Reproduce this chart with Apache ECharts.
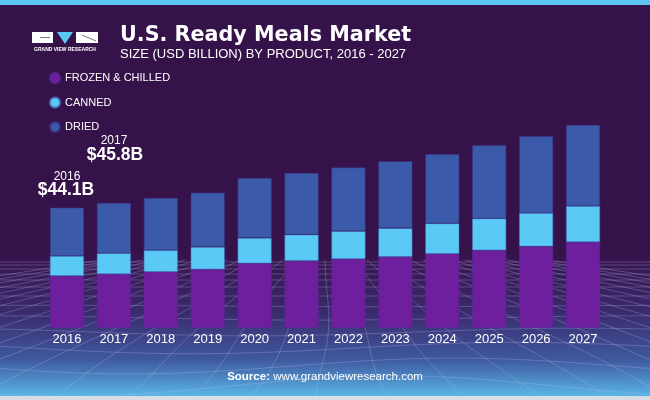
<!DOCTYPE html>
<html>
<head>
<meta charset="utf-8">
<script src="https://cdn.jsdelivr.net/npm/echarts@6/dist/echarts.min.js"></script>
<style>html,body{margin:0;padding:0;background:#36124a}#c{width:650px;height:400px}</style>
</head>
<body>
<div id="c"></div>
<script>
var years = ['2016','2017','2018','2019','2020','2021','2022','2023','2024','2025','2026','2027'];
var frozen = [19.1,19.8,20.6,21.5,23.7,24.6,25.3,26.1,27.2,28.5,29.9,31.5];
var canned = [7.3,7.6,7.9,8.2,9.3,9.6,10.2,10.5,11.1,11.6,12.2,13.2];
var dried  = [17.7,18.4,19.1,19.9,22.0,22.6,23.3,24.5,25.4,26.9,28.2,29.7];
var seriesNames = ['FROZEN & CHILLED','CANNED','DRIED'];
var colors = ['#6e1f9e','#5bc9f6','#3b5aa9'];

var chart = echarts.init(document.getElementById('c'), null, {renderer:'canvas'});

// decorative mesh lines
var mesh = [];
var lineStyle = {stroke:'rgba(190,190,240,0.28)', lineWidth:1};
var hy = [262,265,269,274,280,287,296,306,318,332,348,366,386];
hy.forEach(function(y,i){
  var pts = [];
  for (var x=0; x<=650; x+=25) {
    var wob = (y>300) ? Math.sin((x/650)*Math.PI*2 + i*0.6)*(y-300)*0.12 : 0;
    pts.push([x, y + wob]);
  }
  mesh.push({type:'polyline', z:-5, silent:true, shape:{points:pts}, style:lineStyle});
});
for (var k=-16; k<=16; k++) {
  var xb = 325 + k*70, xt = 325 + k*14;
  var pts = [];
  for (var t=0; t<=1.0001; t+=0.1) {
    var y = 260 + t*140;
    var x = xt + (xb-xt)*t + Math.sin(t*Math.PI*1.5 + k)*10*t;
    pts.push([x,y]);
  }
  mesh.push({type:'polyline', z:-5, silent:true, shape:{points:pts}, style:lineStyle});
}

var option = {
  backgroundColor: 'transparent',
  animation: false,
  color: ['#7626a6','#5bc9f6','#3b5aa9'],
  legend: {
    data: seriesNames,
    orient: 'vertical',
    left: 49, top: 72, padding: 0,
    icon: 'circle',
    itemWidth: 10, itemHeight: 10, itemGap: 12.5,
    textStyle: {color:'#ffffff', fontSize: 11, padding:[0,0,0,0], fontFamily:'Liberation Sans, Arial'}
  },
  grid: {left: 43.5, right: 43.5, top: 55, bottom: 72},
  xAxis: {
    type:'category', data: years,
    axisLine:{show:false}, axisTick:{show:false},
    axisLabel:{color:'#ffffff', fontSize:13, margin:5, fontFamily:'Liberation Sans, Arial'}
  },
  yAxis: {type:'value', min:0, max:100, show:false, splitLine:{show:false}},
  series: [
    {name:seriesNames[0], type:'bar', stack:'t', data:frozen, barWidth:34, itemStyle:{color:colors[0], borderColor:'rgba(90,40,150,0.9)', borderWidth:0.6}},
    {name:seriesNames[1], type:'bar', stack:'t', data:canned, barWidth:34, itemStyle:{color:colors[1], borderColor:'rgba(70,120,200,0.9)', borderWidth:0.6}},
    {name:seriesNames[2], type:'bar', stack:'t', data:dried, barWidth:34, itemStyle:{color:colors[2], borderColor:'rgba(60,50,130,0.9)', borderWidth:0.6}}
  ],
  graphic: [
    {type:'rect', z:-10, silent:true, shape:{x:0,y:0,width:650,height:400},
      style:{fill:{type:'linear',x:0,y:0,x2:0,y2:1,colorStops:[
        {offset:0,color:'#36124a'},{offset:0.63,color:'#36124a'},
        {offset:0.78,color:'#3a2a6c'},{offset:0.9,color:'#3f5aa0'},
        {offset:1,color:'#5cc0ee'}]}}},
    {type:'group', children: mesh},
    {type:'rect', z:-4, silent:true, shape:{x:0,y:0,width:650,height:5}, style:{fill:'#5bc8f0'}},
    {type:'rect', z:-4, silent:true, shape:{x:0,y:396,width:650,height:4}, style:{fill:'#d8dde6'}},
    // logo
    {type:'rect', z:10, shape:{x:32,y:32,width:21,height:11}, style:{fill:'#ffffff'}},
    {type:'rect', z:11, shape:{x:40,y:37,width:10,height:1}, style:{fill:'#7a7a8a'}},
    {type:'polygon', z:10, shape:{points:[[57,32],[73,32],[65,44]]}, style:{fill:'#5bc8f0'}},
    {type:'rect', z:10, shape:{x:76,y:32,width:22,height:11}, style:{fill:'#ffffff'}},
    {type:'polyline', z:11, shape:{points:[[82,35],[96,41]]}, style:{stroke:'#7a7a8a', lineWidth:1}},
    {type:'text', z:10, style:{x:65, y:50, text:'GRAND VIEW RESEARCH', fill:'#ffffff', font:'bold 5px Liberation Sans, Arial', textAlign:'center', textVerticalAlign:'middle'}},
    // titles
    {type:'text', z:10, style:{x:120, y:36, text:'U.S. Ready Meals Market', fill:'#ffffff', font:'bold 20.7px DejaVu Sans, Liberation Sans, Arial', textVerticalAlign:'middle'}},
    {type:'text', z:10, style:{x:120, y:54, text:'SIZE (USD BILLION) BY PRODUCT, 2016 - 2027', fill:'#ffffff', font:'13px Liberation Sans, Arial', textVerticalAlign:'middle'}},
    // annotations
    {type:'text', z:100, style:{x:67, y:177, text:'2016', fill:'#ffffff', font:'12px Liberation Sans, Arial', textAlign:'center', textVerticalAlign:'middle'}},
    {type:'text', z:100, style:{x:66, y:190, text:'$44.1B', fill:'#ffffff', font:'bold 17.5px Liberation Sans, Arial', textAlign:'center', textVerticalAlign:'middle'}},
    {type:'text', z:100, style:{x:114, y:141, text:'2017', fill:'#ffffff', font:'12px Liberation Sans, Arial', textAlign:'center', textVerticalAlign:'middle'}},
    {type:'text', z:100, style:{x:115, y:155, text:'$45.8B', fill:'#ffffff', font:'bold 17.5px Liberation Sans, Arial', textAlign:'center', textVerticalAlign:'middle'}},
    // source
    {type:'text', z:100, style:{x:325, y:377, text:'{b|Source:} {n|www.grandviewresearch.com}', textAlign:'center', textVerticalAlign:'middle',
      rich:{b:{fill:'#ffffff', font:'bold 11.5px Liberation Sans, Arial'}, n:{fill:'#ffffff', font:'11.5px Liberation Sans, Arial'}}}}
  ]
};
chart.setOption(option);
</script>
</body>
</html>
